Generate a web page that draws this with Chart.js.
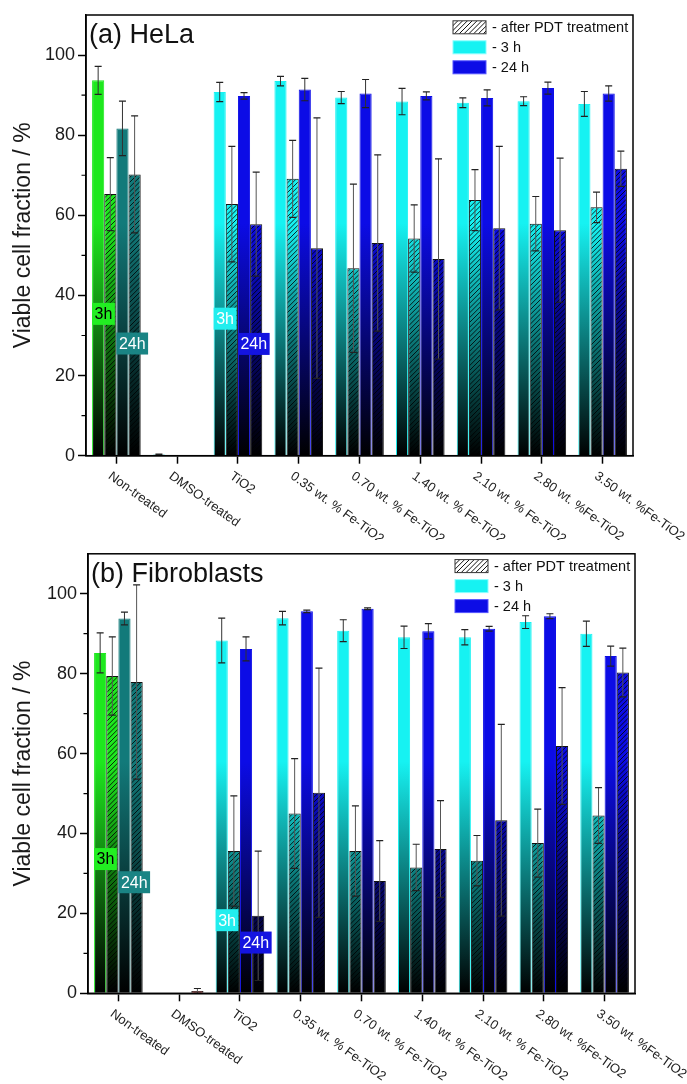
<!DOCTYPE html>
<html><head><meta charset="utf-8">
<script src="https://cdn.jsdelivr.net/npm/chart.js@4.4.0/dist/chart.umd.min.js"></script>
<style>
html,body{margin:0;padding:0;background:#fff;}
#wrapA{position:absolute;left:0;top:0;width:687px;height:540px;}
#wrapB{position:absolute;left:0;top:540px;width:687px;height:544px;}
</style></head><body>
<div id="wrapA"><canvas id="chartA"></canvas></div>
<div id="wrapB"><canvas id="chartB"></canvas></div>
<script>
// ---------- data ----------
const categories = ['Non-treated','DMSO-treated','TiO2','0.35 wt. % Fe-TiO2','0.70 wt. % Fe-TiO2','1.40 wt. % Fe-TiO2','2.10 wt. % Fe-TiO2','2.80 wt. %Fe-TiO2','3.50 wt. %Fe-TiO2'];
const yTicks = [0,20,40,60,80,100];
const yMinorTicks = [10,30,50,70,90];
const legendLabels = ['- after PDT treatment','- 3 h','- 24 h'];
const seriesNames = ['3 h','3 h after PDT','24 h','24 h after PDT'];

// (a) HeLa
const hela3h        = [93.7, 0.3, 90.8, 93.5, 89.4, 88.4, 88.1, 88.5, 87.8];
const hela3hErr     = [3.5, 0.1, 2.4, 1.2, 1.5, 3.3, 1.2, 1.1, 3.1];
const hela3hPDT     = [65.3, 0, 62.8, 69.1, 46.8, 54.2, 63.8, 57.9, 62.0];
const hela3hPDTErr  = [9.1, 0, 14.4, 9.6, 21.0, 8.4, 7.6, 6.8, 3.8];
const hela24h       = [81.7, 0, 89.8, 91.4, 90.4, 89.8, 89.3, 91.75, 90.4];
const hela24hErr    = [6.8, 0, 0.8, 2.8, 3.5, 1.0, 2.0, 1.5, 1.9];
const hela24hPDT    = [70.2, 0, 57.8, 51.8, 53.1, 49.1, 56.8, 56.3, 71.6];
const hela24hPDTErr = [14.6, 0, 13.0, 32.5, 22.0, 25.0, 20.4, 18.0, 4.4];

// (b) Fibroblasts
const fibro3h        = [85.2, 0, 88.3, 93.9, 90.75, 89.1, 89.1, 92.9, 90.0];
const fibro3hErr     = [5.0, 0, 5.6, 1.7, 2.75, 2.8, 1.9, 1.6, 3.15];
const fibro3hPDT     = [79.4, 0, 35.6, 45.0, 35.6, 31.5, 33.2, 37.6, 44.5];
const fibro3hPDTErr  = [9.8, 0, 13.8, 13.75, 11.3, 5.8, 6.3, 8.5, 7.0];
const fibro24h       = [93.8, 0, 86.2, 95.6, 96.25, 90.6, 91.25, 94.4, 84.4];
const fibro24hErr    = [1.6, 0, 3.0, 0.3, 0.2, 1.9, 0.6, 0.6, 2.5];
const fibro24hPDT    = [77.9, 0.6, 19.4, 50.2, 28.1, 36.1, 43.3, 61.9, 80.3];
const fibro24hPDTErr = [24.3, 0.6, 16.2, 31.2, 10.1, 12.1, 24.0, 14.6, 6.1];

// in-plot tags ("3h" / "24h")
const tagTexts    = ['3h','24h','3h','24h'];
const tagSeries   = [0, 2, 0, 2];
const tagCategory = [0, 0, 2, 2];
const helaTagValues  = [35.4, 28.0, 34.2, 27.9];
const fibroTagValues = [33.6, 27.8, 18.3, 12.7];

// ---------- styles ----------
const FONT = "'Liberation Sans', Arial, sans-serif";
const COLORS = { green:'#1ee81e', teal:'#127a7a', cyan:'#16f2f2', blue:'#0c0ce6', red:'#a01010' };
const TAG_STYLE = [
  {bg:'#22ee22', fg:'#000'}, {bg:'#1a8484', fg:'#fff'},
  {bg:'#22eeee', fg:'#fff'}, {bg:'#1414e0', fg:'#fff'}
];
const GRAD_TOP = 58;

function baseColor(i, late) {
  if (i === 0) return late ? COLORS.teal : COLORS.green;
  return late ? COLORS.blue : COLORS.cyan;
}

const patternCache = {};
function barFill(chart, top, hatch) {
  const area = chart.chartArea, ys = chart.scales.y;
  if (!area || !ys) return top;
  const key = chart.id + '|' + top + '|' + hatch + '|' + chart.width + 'x' + chart.height + '|' + Math.round(area.bottom);
  if (patternCache[key]) return patternCache[key];
  const c = document.createElement('canvas');
  c.width = chart.canvas.width; c.height = chart.canvas.height;
  const g = c.getContext('2d');
  const grad = g.createLinearGradient(0, ys.getPixelForValue(GRAD_TOP), 0, ys.getPixelForValue(0));
  grad.addColorStop(0, top); grad.addColorStop(1, '#000');
  g.fillStyle = grad; g.fillRect(0, 0, c.width, c.height);
  if (hatch) {
    g.strokeStyle = 'rgba(0,0,0,0.9)'; g.lineWidth = 0.9; g.beginPath();
    for (let x = -c.height; x < c.width; x += 4.8) { g.moveTo(x, c.height); g.lineTo(x + c.height, 0); }
    g.stroke();
  }
  const p = g.createPattern(c, 'no-repeat');
  patternCache[key] = p; return p;
}

const panels = {
  chartA: {
    title: '(a) HeLa',
    s: [hela3h, hela3hPDT, hela24h, hela24hPDT],
    e: [hela3hErr, hela3hPDTErr, hela24hErr, hela24hPDTErr],
    tagValues: helaTagValues,
    special: [],
    padTop: 15, padRight: 54, yWidth: 86, xHeight: 84.3
  },
  chartB: {
    title: '(b) Fibroblasts',
    s: [fibro3h, fibro3hPDT, fibro24h, fibro24hPDT],
    e: [fibro3hErr, fibro3hPDTErr, fibro24hErr, fibro24hPDTErr],
    tagValues: fibroTagValues,
    special: [{dataset:3, index:1, color:COLORS.red}],
    padTop: 13, padRight: 52, yWidth: 88, xHeight: 90.7
  }
};

const errorBarPlugin = {
  id: 'errorBars',
  afterDatasetsDraw(chart) {
    const ys = chart.scales.y, ctx = chart.ctx;
    ctx.save();
    chart.data.datasets.forEach((ds, di) => {
      const meta = chart.getDatasetMeta(di);
      meta.data.forEach((el, i) => {
        const v = ds.data[i], e = ds.errors[i];
        if (!e) return;
        const x = el.x;
        const yt = ys.getPixelForValue(v + e), yb = ys.getPixelForValue(Math.max(v - e, 0));
        ctx.strokeStyle = ds.hatch ? '#555' : '#333';
        ctx.lineWidth = 1;
        ctx.beginPath(); ctx.moveTo(x, yt); ctx.lineTo(x, yb); ctx.stroke();
        ctx.strokeStyle = '#222'; ctx.lineWidth = 1.2;
        ctx.beginPath();
        ctx.moveTo(x - 3.5, yt); ctx.lineTo(x + 3.5, yt);
        ctx.moveTo(x - 3.5, yb); ctx.lineTo(x + 3.5, yb);
        ctx.stroke();
      });
    });
    ctx.restore();
  }
};

const decorPlugin = {
  id: 'decor',
  afterDraw(chart) {
    const panel = panels[chart.canvas.id];
    const ctx = chart.ctx, a = chart.chartArea, ys = chart.scales.y, xs = chart.scales.x;
    ctx.save();
    // frame
    ctx.strokeStyle = '#000'; ctx.lineWidth = 1.5;
    ctx.strokeRect(a.left, a.top, a.right - a.left, a.bottom - a.top);
    // minor y ticks
    ctx.lineWidth = 1.2;
    ctx.beginPath();
    yMinorTicks.forEach(v => { const y = ys.getPixelForValue(v); ctx.moveTo(a.left - 4.5, y); ctx.lineTo(a.left, y); });
    ctx.stroke();
    // category labels
    ctx.fillStyle = '#222'; ctx.font = '13px ' + FONT;
    ctx.textAlign = 'left'; ctx.textBaseline = 'top';
    categories.forEach((lab, i) => {
      const x = xs.getPixelForTick(i);
      ctx.save();
      ctx.translate(x - 3, a.bottom + 14);
      ctx.rotate(36 * Math.PI / 180);
      ctx.fillText(lab, 0, 0);
      ctx.restore();
    });
    // panel title
    ctx.fillStyle = '#111'; ctx.font = '27px ' + FONT; ctx.textBaseline = 'alphabetic';
    ctx.fillText(panel.title, a.left + 3, a.top + 28);
    // legend
    const lx = a.right - 180, sw = 33, sh = 13;
    ctx.font = '14.5px ' + FONT; ctx.textBaseline = 'middle';
    legendLabels.forEach((lab, k) => {
      const cy = a.top + 12.3 + k * 20;
      const sy = cy - sh / 2;
      if (k === 0) {
        ctx.fillStyle = '#fff'; ctx.fillRect(lx, sy, sw, sh);
        ctx.save(); ctx.beginPath(); ctx.rect(lx, sy, sw, sh); ctx.clip();
        ctx.strokeStyle = '#111'; ctx.lineWidth = 1; ctx.beginPath();
        for (let x = lx - sh; x < lx + sw; x += 4.8) { ctx.moveTo(x, sy + sh); ctx.lineTo(x + sh, sy); }
        ctx.stroke(); ctx.restore();
        ctx.strokeStyle = '#333'; ctx.lineWidth = 1; ctx.strokeRect(lx, sy, sw, sh);
      } else {
        ctx.fillStyle = k === 1 ? COLORS.cyan : COLORS.blue;
        ctx.fillRect(lx, sy, sw, sh);
        ctx.strokeStyle = k === 1 ? '#8ff' : '#55f'; ctx.lineWidth = 1; ctx.strokeRect(lx, sy, sw, sh);
      }
      ctx.fillStyle = '#111';
      ctx.fillText(lab, lx + sw + 6, cy + 0.5);
    });
    // tags
    ctx.font = '16px ' + FONT; ctx.textBaseline = 'middle'; ctx.textAlign = 'left';
    tagTexts.forEach((t, k) => {
      const el = chart.getDatasetMeta(tagSeries[k]).data[tagCategory[k]];
      const left = el.x - el.width / 2;
      const cy = ys.getPixelForValue(panel.tagValues[k]);
      const w = ctx.measureText(t).width + 5, h = 22;
      const st = TAG_STYLE[k];
      ctx.fillStyle = st.bg; ctx.fillRect(left, cy - h / 2, w, h);
      ctx.fillStyle = st.fg; ctx.fillText(t, left + 2.5, cy + 1);
    });
    ctx.restore();
  }
};

function makeChart(id) {
  const panel = panels[id];
  const lateFlags = [false, false, true, true];
  const hatchFlags = [false, true, false, true];
  const datasets = panel.s.map((arr, di) => ({
    label: seriesNames[di],
    data: arr,
    errors: panel.e[di],
    hatch: hatchFlags[di],
    backgroundColor: (c) => {
      const sp = panel.special.find(s => s.dataset === di && s.index === c.dataIndex);
      if (sp) return sp.color;
      return barFill(c.chart, baseColor(c.dataIndex, lateFlags[di]), hatchFlags[di]);
    },
    borderColor: (c) => hatchFlags[di] ? '#111' : baseColor(c.dataIndex, lateFlags[di]),
    borderWidth: 1,
    categoryPercentage: 0.8,
    barPercentage: 1.0
  }));
  return new Chart(document.getElementById(id), {
    type: 'bar',
    data: { labels: categories, datasets },
    plugins: [errorBarPlugin, decorPlugin],
    options: {
      responsive: true, maintainAspectRatio: false, animation: false,
      layout: { padding: { top: panel.padTop, right: panel.padRight, left: 0, bottom: 0 } },
      plugins: { legend: { display: false }, tooltip: { enabled: false } },
      scales: {
        x: {
          offset: true,
          grid: { display: true, offset: false, drawOnChartArea: false, drawTicks: true, tickLength: 8, color: '#000', tickColor: '#000', tickWidth: 1.5 },
          border: { display: true, color: '#000', width: 1.5 },
          ticks: { display: false },
          afterFit: (s) => { s.height = panel.xHeight; }
        },
        y: {
          min: 0, max: 110,
          afterBuildTicks: (s) => { s.ticks = yTicks.map(v => ({ value: v })); },
          ticks: { font: { size: 18, family: FONT }, color: '#1a1a1a', padding: 3 },
          grid: { drawOnChartArea: false, tickLength: 8, tickColor: '#000', tickWidth: 1.5 },
          border: { display: true, color: '#000', width: 1.5 },
          title: { display: true, text: 'Viable cell fraction / %', font: { size: 23, family: FONT }, color: '#1a1a1a', padding: { top: 10, bottom: 0 } },
          afterFit: (s) => { s.width = panel.yWidth; }
        }
      }
    }
  });
}
makeChart('chartA');
makeChart('chartB');
</script>
</body></html>
